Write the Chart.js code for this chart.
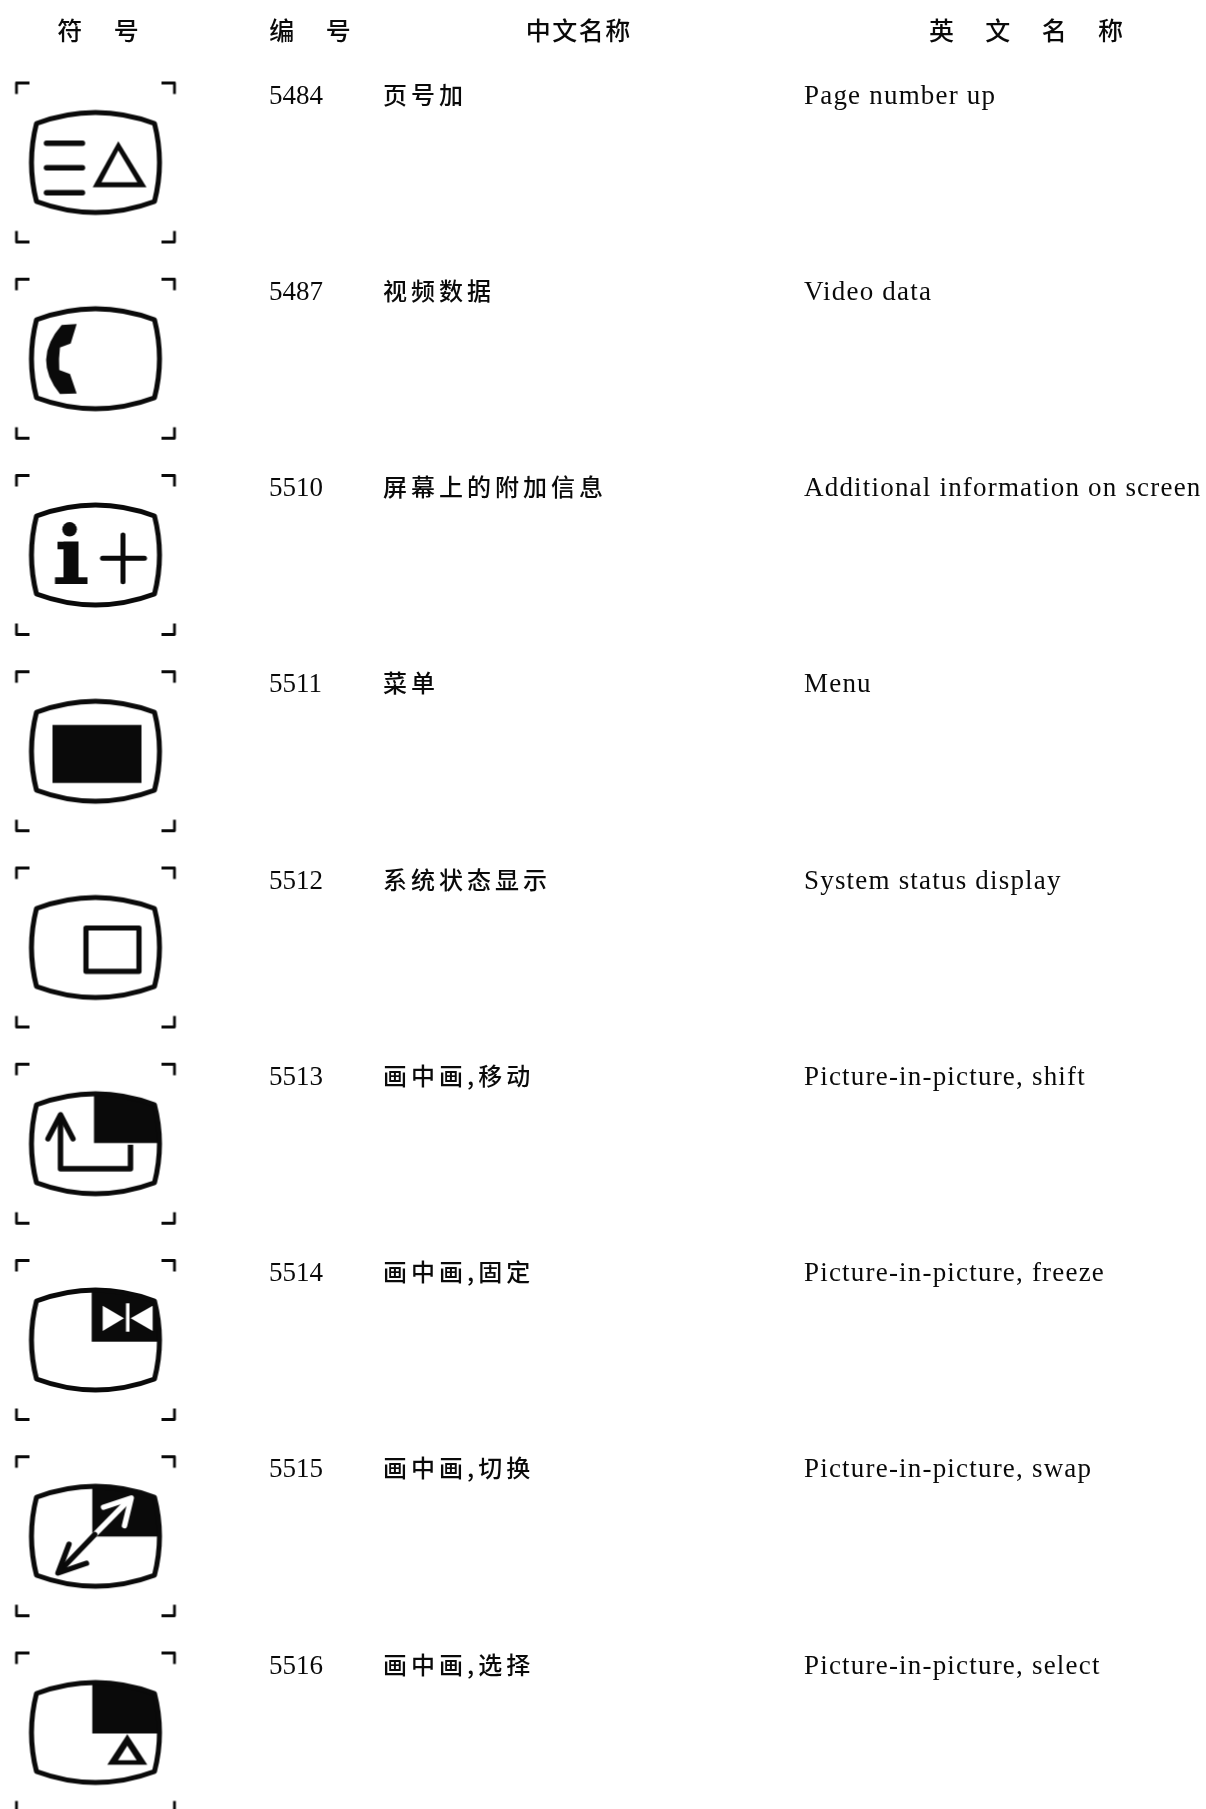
<!DOCTYPE html>
<html>
<head>
<meta charset="utf-8">
<title>符号表</title>
<style>
html, body { margin: 0; padding: 0; background: #fff; }
canvas { display: block; }
</style>
<script src="https://cdn.jsdelivr.net/npm/chart.js@4"></script>
</head>
<body>
<canvas id="myChart" width="1206" height="1809"></canvas>
<script>
const headers = ["符\u3000\u2005号", "编\u3000\u2005号", "中\u200A文\u200A名\u200A称", "英\u3000\u2005文\u3000\u2005名\u3000\u2005称"];
const codes = ["5484", "5487", "5510", "5511", "5512", "5513", "5514", "5515", "5516"];
const namesZh = ["页号加", "视频数据", "屏幕上的附加信息", "菜单", "系统状态显示", "画中画,移动", "画中画,固定", "画中画,切换", "画中画,选择"];
const namesEn = ["Page number up", "Video data", "Additional information on screen", "Menu", "System status display",
	"Picture-in-picture, shift", "Picture-in-picture, freeze", "Picture-in-picture, swap", "Picture-in-picture, select"];
const symbolNames = ["pageUp", "video", "info", "menu", "status", "pipShift", "pipFreeze", "pipSwap", "pipSelect"];

// column layout, the y axis counts table rows
const headerX = [98, 310, 578, 1026];
const symbolX = 95.5, codeX = 269, zhX = 383, enX = 804;
const symbolOffset = 0.346;
const ink = "#0a0a0a";

function screenPath(c) {
	c.beginPath();
	c.moveTo(-59, -39);
	c.quadraticCurveTo(0, -61, 59, -39);
	c.quadraticCurveTo(69, 0, 59, 39);
	c.quadraticCurveTo(0, 61, -59, 39);
	c.quadraticCurveTo(-69, 0, -59, -39);
	c.closePath();
}

function poly(c, pts, mode) {
	c.beginPath();
	pts.forEach((p, i) => i ? c.lineTo(p[0], p[1]) : c.moveTo(p[0], p[1]));
	if (mode === "fill") { c.closePath(); c.fill(); } else c.stroke();
}

function corner(c, x, y) {
	// black pip window in the upper right of the screen
	c.save();
	screenPath(c);
	c.clip();
	c.fillRect(x, -70, 100, 70 + y);
	c.restore();
}

const glyphs = {
	pageUp(c) {
		c.lineWidth = 5.4;
		c.lineCap = "round";
		[-19.3, 5.3, 30.3].forEach(y => poly(c, [[-49, y], [-13, y]]));
		poly(c, [[22.8, -21.3], [-2.8, 24.7], [51, 24.7]], "fill");
		c.fillStyle = "#fff";
		poly(c, [[22.8, -12], [6, 19.7], [41.8, 19.7]], "fill");
	},
	video(c) {
		c.beginPath();
		c.moveTo(-33.8, -33.7);
		c.lineTo(-18.8, -34.7);
		c.lineTo(-24.8, -15.3);
		c.lineTo(-35.5, -11.3);
		c.quadraticCurveTo(-37, 0, -36.2, 11.3);
		c.lineTo(-25.5, 15.3);
		c.lineTo(-18.8, 34.7);
		c.lineTo(-35.5, 35.3);
		c.quadraticCurveTo(-64, 0.7, -33.8, -33.7);
		c.fill();
	},
	info(c) {
		c.beginPath();
		c.arc(-25.9, -25.7, 7.3, 0, Math.PI * 2);
		c.fill();
		c.fillRect(-38, -13.3, 21, 7.6);
		c.fillRect(-32, -13.3, 15, 36.6);
		c.fillRect(-40.5, 22.3, 32.5, 6.7);
		c.lineWidth = 5;
		c.lineCap = "round";
		poly(c, [[7, 3.3], [49, 3.3]]);
		poly(c, [[27.5, -20], [27.5, 26.7]]);
	},
	menu(c) {
		c.fillRect(-43, -26.3, 89, 58);
	},
	status(c) {
		c.lineWidth = 5.2;
		c.strokeRect(-9.5, -19.5, 53, 43.3);
	},
	pipShift(c) {
		corner(c, -1.5, -0.7);
		c.lineWidth = 5.4;
		poly(c, [[35, 1], [35, 25], [-35, 25], [-35, -27]]);
		c.lineCap = "round";
		poly(c, [[-47.5, -5], [-35, -29], [-22.5, -5]]);
	},
	pipFreeze(c) {
		corner(c, -3.8, 1.7);
		c.fillStyle = "#fff";
		poly(c, [[7.2, -34.3], [7.2, -9], [28.5, -21.7]], "fill");
		poly(c, [[57.2, -34.3], [57.2, -9], [35.2, -21.7]], "fill");
		c.fillRect(30.5, -36.7, 3.5, 28.4);
	},
	pipSwap(c) {
		corner(c, -3.2, 0.3);
		c.lineWidth = 5.4;
		c.lineCap = "round";
		c.strokeStyle = "#fff";
		poly(c, [[-0.8, -1.7], [33, -36]]);
		poly(c, [[8, -29], [35.8, -38.3], [29, -10.5]]);
		c.strokeStyle = ink;
		poly(c, [[-0.8, -1.7], [-35, 34]]);
		poly(c, [[-26.5, 8], [-37.5, 36.7], [-9, 27]]);
	},
	pipSelect(c) {
		corner(c, -3.2, 1);
		poly(c, [[31.8, 1.7], [11.8, 32.3], [51.8, 32.3]], "fill");
		c.fillStyle = "#fff";
		poly(c, [[31.8, 13.3], [22.5, 27.7], [41.2, 27.7]], "fill");
	}
};

function makeSymbol(name) {
	const cv = document.createElement("canvas");
	cv.width = 180;
	cv.height = 180;
	const c = cv.getContext("2d");
	c.translate(90, 90);
	c.fillStyle = ink;
	c.strokeStyle = ink;
	c.lineJoin = "round";
	// crop marks
	c.lineWidth = 2.8;
	[[-1, -1], [1, -1], [-1, 1], [1, 1]].forEach(s => {
		const x = 79 * s[0], y = 79.5 * s[1];
		c.beginPath();
		c.moveTo(x - 13 * s[0], y);
		c.lineTo(x, y);
		c.lineTo(x, y - 11 * s[1]);
		c.stroke();
	});
	c.save();
	glyphs[name](c);
	c.restore();
	c.lineWidth = 5;
	screenPath(c);
	c.stroke();
	return cv;
}

const symbols = symbolNames.map(makeSymbol);

const labelPlugin = {
	id: "rowLabels",
	afterDatasetsDraw(chart) {
		const c = chart.ctx;
		chart.data.datasets.forEach((ds, i) => {
			if (!ds.texts) return;
			c.save();
			c.font = ds.textFont;
			c.letterSpacing = ds.textSpacing;
			c.fillStyle = ink;
			c.textAlign = "left";
			c.textBaseline = "middle";
			chart.getDatasetMeta(i).data.forEach((pt, k) => c.fillText(ds.texts[k], pt.x, pt.y + ds.textDy));
			c.restore();
		});
	}
};

function column(x, texts, font, spacing, dy) {
	return {
		data: texts.map((t, i) => ({x: x, y: i})),
		pointRadius: 0,
		texts: texts,
		textFont: font,
		textSpacing: spacing,
		textDy: dy
	};
}

new Chart(document.getElementById("myChart"), {
	type: "scatter",
	data: {
		datasets: [
			{
				data: symbols.map((s, i) => ({x: symbolX, y: i + symbolOffset})),
				pointStyle: ctx => symbols[ctx.dataIndex],
				pointRadius: 80,
				clip: false
			},
			column(codeX, codes, "27px 'Liberation Serif'", "0px", 2),
			column(zhX, namesZh, "500 24px 'Noto Sans CJK SC'", "4px", 0),
			column(enX, namesEn, "27px 'Liberation Serif'", "1.2px", 2)
		]
	},
	options: {
		responsive: false,
		animation: false,
		events: [],
		layout: {padding: 0, autoPadding: false},
		plugins: {legend: {display: false}, tooltip: {enabled: false}},
		scales: {
			x: {
				type: "linear",
				position: "top",
				min: 0,
				max: 1206,
				grid: {display: false},
				border: {display: false},
				afterBuildTicks: axis => { axis.ticks = headerX.map(v => ({value: v})); },
				afterFit: axis => { axis.height = 60; },
				ticks: {
					callback: (v, i) => headers[i],
					autoSkip: false,
					minRotation: 0,
					maxRotation: 0,
					padding: 7,
					color: ink,
					font: {family: "'Noto Sans CJK SC'", size: 25, weight: "500"}
				}
			},
			y: {
				type: "linear",
				display: false,
				reverse: true,
				min: -0.176,
				max: 8.736
			}
		}
	},
	plugins: [labelPlugin]
});
</script>
</body>
</html>
